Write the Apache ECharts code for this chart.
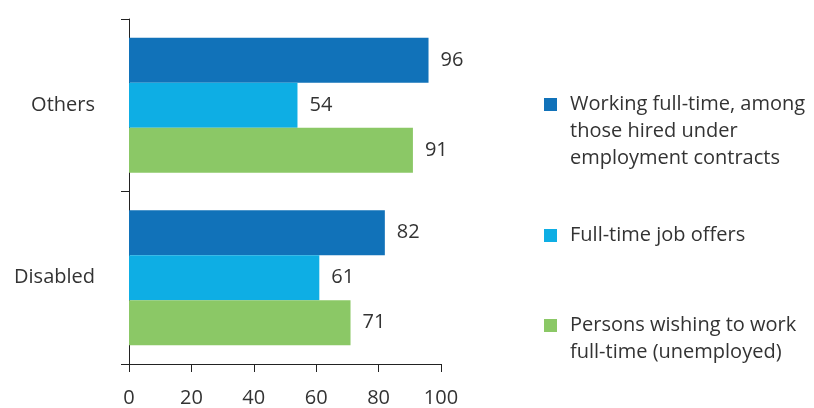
<!DOCTYPE html>
<html>
<head>
<meta charset="utf-8">
<script src="https://cdn.jsdelivr.net/npm/echarts@6/dist/echarts.min.js"></script>
<style>
  html, body { margin: 0; padding: 0; background: #fff; }
  #chart { width: 814px; height: 408px; }
</style>
</head>
<body>
<div id="chart"></div>
<script>
// Groups shown on the vertical axis, top to bottom
const categories = ['Others', 'Disabled'];

// Series names (legend text) and values per group
const seriesNames = [
  'Working full-time, among\nthose hired under\nemployment contracts',
  'Full-time job offers',
  'Persons wishing to work\nfull-time (unemployed)'
];
const workingFullTime = [96, 82];
const fullTimeOffers = [54, 61];
const wishingFullTime = [91, 71];

// Value axis ticks
const xTicks = [0, 20, 40, 60, 80, 100];

const colors = ['#1172B9', '#0EAEE4', '#8BC866'];
const textColor = '#333';
const fontFamily = '"Open Sans", "Noto Sans", sans-serif';

const chart = echarts.init(document.getElementById('chart'), null, { renderer: 'canvas' });

const values = [workingFullTime, fullTimeOffers, wishingFullTime];

// Legend text is vertically centred on its swatch, so leading blank
// lines keep the swatch level with the first line of a wrapped label.
const lineH = 27;
function legendFor(i, top) {
  const lines = seriesNames[i].split('\n').length;
  return {
    show: true,
    orient: 'vertical',
    left: 539,
    top: top,
    itemWidth: 13,
    itemHeight: 13,
    icon: 'rect',
    selectedMode: false,
    formatter: (name) => '\n'.repeat(lines - 1) + name,
    data: [{ name: seriesNames[i] }],
    textStyle: {
      color: textColor,
      fontSize: 20,
      fontFamily: fontFamily,
      lineHeight: lineH,
      padding: [0, 0, 0, 8]
    }
  };
}

const option = {
  animation: false,
  backgroundColor: '#fff',
  grid: { left: 129, right: 373, top: 19, bottom: 43, containLabel: false },
  legend: [legendFor(0, 32), legendFor(1, 217), legendFor(2, 280)],
  xAxis: {
    type: 'value',
    min: xTicks[0],
    max: xTicks[xTicks.length - 1],
    interval: xTicks[1] - xTicks[0],
    axisLine: { show: true, lineStyle: { color: '#222', width: 1 } },
    axisTick: { show: true, length: 8, lineStyle: { color: '#222' } },
    splitLine: { show: false },
    axisLabel: { color: textColor, fontSize: 20, fontFamily: fontFamily, margin: 24 }
  },
  yAxis: {
    type: 'category',
    data: categories,
    inverse: true,
    axisLine: { show: true, lineStyle: { color: '#222', width: 1 } },
    axisTick: { show: true, length: 8, lineStyle: { color: '#222' } },
    axisLabel: { color: textColor, fontSize: 20, fontFamily: fontFamily, margin: 34 }
  },
  series: values.map((data, i) => ({
    name: seriesNames[i],
    type: 'bar',
    data: data,
    barWidth: 45,
    barGap: '0%',
    itemStyle: { color: colors[i] },
    label: {
      show: true,
      position: 'right',
      distance: 12,
      color: textColor,
      fontSize: 20,
      fontFamily: fontFamily
    }
  }))
};

chart.setOption(option);
</script>
</body>
</html>
